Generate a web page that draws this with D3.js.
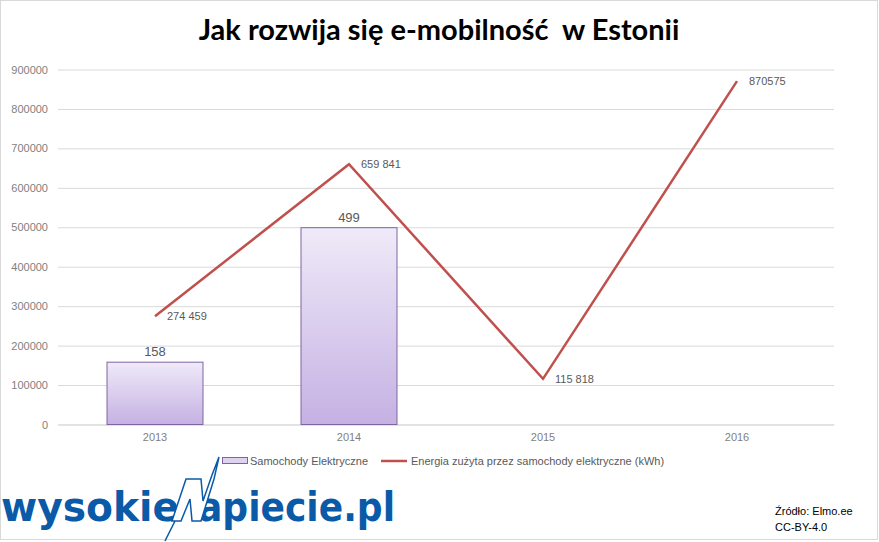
<!DOCTYPE html>
<html>
<head>
<meta charset="utf-8">
<script src="https://cdn.jsdelivr.net/npm/d3@7"></script>
<style>
	html, body { margin: 0; padding: 0; background: #fff; }
	svg { display: block; }
	text { font-family: 'Liberation Sans', Arial, sans-serif; }
</style>
</head>
<body>
<div id="chart"></div>
<script>
	'use strict';
	// data
	var years = ['2013', '2014', '2015', '2016'];
	var cars = [158, 499, null, null];
	var energy = [274459, 659841, 115818, 870575];
	var energyLabels = ['274 459', '659 841', '115 818', '870575'];
	var yTicks = [0, 100000, 200000, 300000, 400000, 500000, 600000, 700000, 800000, 900000];
	var legendNames = ['Samochody Elektryczne', 'Energia zużyta przez samochody elektryczne (kWh)'];

	var W = 879, H = 542;
	var plot = {left: 58, right: 834, top: 69.5, bottom: 424.5};

	var svg = d3.select('#chart')
		.append('svg')
		.attr('width', W)
		.attr('height', H);

	// outer frame
	svg.append('rect')
		.attr('x', 0.5).attr('y', 0.5)
		.attr('width', 877).attr('height', 539)
		.attr('fill', '#fff')
		.attr('stroke', '#d9d9d9');

	var defs = svg.append('defs');
	var grad = defs.append('linearGradient')
		.attr('id', 'barGrad')
		.attr('x1', 0).attr('y1', 0).attr('x2', 0).attr('y2', 1);
	grad.append('stop').attr('offset', '0%').attr('stop-color', '#efeaf8');
	grad.append('stop').attr('offset', '100%').attr('stop-color', '#c5b1e3');

	// title
	svg.append('text')
		.attr('x', 439)
		.attr('y', 40)
		.attr('text-anchor', 'middle')
		.style('font-family', 'Lato, sans-serif')
		.style('font-weight', 'bold')
		.style('font-size', '29px')
		.style('white-space', 'pre')
		.attr('fill', '#000')
		.text('Jak rozwija się e-mobilność  w Estonii');

	var x = d3.scaleBand()
		.domain(years)
		.range([plot.left, plot.right])
		.paddingInner(0.5)
		.paddingOuter(0.25);
	var y = d3.scaleLinear()
		.domain([0, 900000])
		.range([plot.bottom, plot.top]);
	// bars sit on a hidden secondary axis
	var yBar = d3.scaleLinear()
		.domain([0, 900])
		.range([plot.bottom, plot.top]);

	// grid + y labels
	var yAxis = svg.append('g')
		.attr('transform', 'translate(' + plot.left + ',0)')
		.call(d3.axisLeft(y).tickValues(yTicks).tickSize(-(plot.right - plot.left)).tickPadding(10).tickFormat(d3.format('d')));
	yAxis.select('.domain').remove();
	yAxis.selectAll('line').attr('stroke', '#d9d9d9');
	yAxis.selectAll('text')
		.attr('fill', '#7f7f7f')
		.style('font-size', '11px');

	// x labels
	var xAxis = svg.append('g')
		.attr('transform', 'translate(0,' + plot.bottom + ')')
		.call(d3.axisBottom(x).tickSize(0).tickPadding(9));
	xAxis.select('.domain').attr('stroke', '#d9d9d9');
	xAxis.selectAll('text')
		.attr('fill', '#7f7f7f')
		.style('font-size', '11px');

	// bars
	var barData = years.map(function (d, i) { return {year: d, v: cars[i]}; })
		.filter(function (d) { return d.v !== null; });
	svg.selectAll('rect.bar')
		.data(barData)
		.enter().append('rect')
		.attr('class', 'bar')
		.attr('x', function (d) { return x(d.year) + 0.5; })
		.attr('y', function (d) { return yBar(d.v); })
		.attr('width', x.bandwidth() - 1)
		.attr('height', function (d) { return yBar(0) - yBar(d.v); })
		.attr('fill', 'url(#barGrad)')
		.attr('stroke', '#8064a2')
		.attr('stroke-width', 1);
	svg.selectAll('text.barlabel')
		.data(barData)
		.enter().append('text')
		.attr('class', 'barlabel')
		.attr('x', function (d) { return x(d.year) + x.bandwidth() / 2; })
		.attr('y', function (d) { return yBar(d.v) - 6; })
		.attr('text-anchor', 'middle')
		.attr('fill', '#595959')
		.style('font-size', '13px')
		.text(function (d) { return d.v; });

	// energy line
	var lineData = years.map(function (d, i) { return {year: d, v: energy[i], label: energyLabels[i]}; });
	var line = d3.line()
		.x(function (d) { return x(d.year) + x.bandwidth() / 2; })
		.y(function (d) { return y(d.v); });
	svg.append('path')
		.datum(lineData)
		.attr('d', line)
		.attr('fill', 'none')
		.attr('stroke', '#c0504d')
		.attr('stroke-width', 2.5)
		.attr('stroke-linejoin', 'miter');
	svg.selectAll('text.linelabel')
		.data(lineData)
		.enter().append('text')
		.attr('class', 'linelabel')
		.attr('x', function (d) { return x(d.year) + x.bandwidth() / 2 + 12; })
		.attr('y', function (d) { return y(d.v) + 4; })
		.attr('fill', '#595959')
		.style('font-size', '11px')
		.text(function (d) { return d.label; });

	// legend
	var lg = svg.append('g');
	lg.append('rect')
		.attr('x', 222.5).attr('y', 457.5)
		.attr('width', 25).attr('height', 6)
		.attr('fill', '#ddd2ef')
		.attr('stroke', '#8064a2');
	lg.append('text')
		.attr('x', 250).attr('y', 464.5)
		.attr('fill', '#595959')
		.style('font-size', '11px')
		.text(legendNames[0]);
	lg.append('line')
		.attr('x1', 381).attr('x2', 407)
		.attr('y1', 461).attr('y2', 461)
		.attr('stroke', '#c0504d')
		.attr('stroke-width', 2.5);
	lg.append('text')
		.attr('x', 411).attr('y', 464.5)
		.attr('fill', '#595959')
		.style('font-size', '11px')
		.text(legendNames[1]);

	// logo
	var logo = svg.append('g');
	logo.append('text')
		.attr('x', 1).attr('y', 521)
		.attr('textLength', 178)
		.attr('lengthAdjust', 'spacingAndGlyphs')
		.style('font-family', 'DejaVu Sans, sans-serif')
		.style('font-weight', 'bold')
		.style('font-size', '40px')
		.attr('fill', '#0a5aa8')
		.text('wysokie');
	logo.append('text')
		.attr('x', 198).attr('y', 521)
		.attr('textLength', 197)
		.attr('lengthAdjust', 'spacingAndGlyphs')
		.style('font-family', 'DejaVu Sans, sans-serif')
		.style('font-weight', 'bold')
		.style('font-size', '40px')
		.attr('fill', '#0a5aa8')
		.text('apiecie.pl');
	// lightning "N"
	logo.append('path')
		.attr('d', 'M172,521 L186,479 L201,479 L203,501 L212,475 L219,457 L214,479 L201,521 L192,521 L190,499 L181,521 Z')
		.attr('fill', '#fff')
		.attr('stroke', '#0a5aa8')
		.attr('stroke-width', 1.5)
		.attr('stroke-linejoin', 'miter');
	logo.append('line')
		.attr('x1', 175).attr('y1', 521)
		.attr('x2', 165).attr('y2', 541)
		.attr('stroke', '#0a5aa8')
		.attr('stroke-width', 1.5);

	// source
	svg.append('text')
		.attr('x', 775).attr('y', 515)
		.attr('fill', '#000')
		.style('font-size', '11px')
		.text('Źródło: Elmo.ee');
	svg.append('text')
		.attr('x', 775).attr('y', 531)
		.attr('fill', '#000')
		.style('font-size', '11px')
		.text('CC-BY-4.0');
</script>
</body>
</html>
